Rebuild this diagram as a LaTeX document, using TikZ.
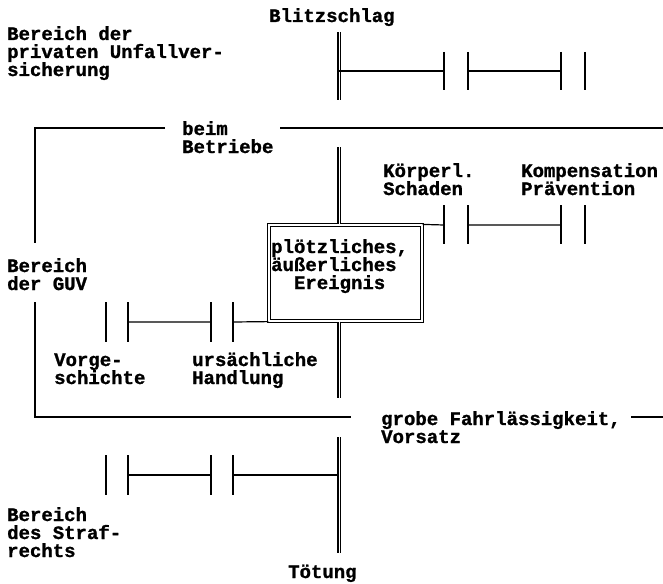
\documentclass[tikz,border=0pt]{standalone}
\usepackage{fontspec}
\setmonofont{Liberation Mono}[BoldFeatures={FakeBold=1.2}]

\tikzset{
	txt/.style={font=\ttfamily\bfseries\fontsize{19}{18}\selectfont, inner sep=0pt, align=left, anchor=base west},
	ln/.style={line width=1.2pt},
	bar/.style={line width=1.8pt},
	axe/.style={double, line width=1.3pt, double distance=1pt},
	evbox/.style={draw, double, line width=1.2pt, double distance=1.6pt, minimum width=153pt, minimum height=96pt, inner sep=0pt},
}

\begin{document}
\begin{tikzpicture}[x=1pt,y=-1pt]
		\useasboundingbox (0,0) rectangle (663,583);

		\node[evbox] (ev) at (345.5,273) {};
		\node[txt] (evtxt) at (271,289) {plötzliches,\\äußerliches\\~~Ereignis};

		\draw[ln] (165,128) -- (35,128) -- (35,243);
		\draw[ln] (35,302) -- (35,417) -- (351,417);
		\draw[ln] (280,128) -- (663,128);
		\draw[ln] (631,417) -- (663,417);

		\draw[axe] (339,32) -- (339,100);
		\draw[axe] (339,147) -- (339,147 |- ev.north);
		\draw[axe] (339,398 |- ev.south) -- (339,398);
		\draw[axe] (339,437) -- (339,553);

		\draw[ln] (339,71) -- (444,71) (468,71) -- (561,71);
		\draw[bar] (444,52) -- (444,90) (468,52) -- (468,90) (561,52) -- (561,90) (585,52) -- (585,90);

		\draw[ln] (ev.north east) -- (444,225) (468,225) -- (561,225);
		\draw[bar] (444,205) -- (444,244) (468,205) -- (468,244) (561,205) -- (561,244) (585,205) -- (585,244);

		\draw[ln] (128,322) -- (211,322) (233,322) -- (ev.south west);
		\draw[bar] (106,302) -- (106,342) (128,302) -- (128,342) (211,302) -- (211,342) (233,302) -- (233,342);

		\draw[ln] (128,475) -- (211,475) (233,475) -- (339,475);
		\draw[bar] (106,455) -- (106,495) (128,455) -- (128,495) (211,455) -- (211,495) (233,455) -- (233,495);

		\node[txt] (blitz) at (269,22) {Blitzschlag};
		\node[txt] (puv) at (7,76) {Bereich der\\privaten Unfallver-\\sicherung};
		\node[txt] (betrieb) at (182,153) {beim\\Betriebe};
		\node[txt] (schaden) at (383,195) {Körperl.\\Schaden};
		\node[txt] (komp) at (521,195) {Kompensation\\Prävention};
		\node[txt] (guv) at (7,290) {Bereich\\der GUV};
		\node[txt] (vorg) at (54,384) {Vorge-\\schichte};
		\node[txt] (handl) at (192,384) {ursächliche\\Handlung};
		\node[txt] (grob) at (381,443) {grobe Fahrlässigkeit,\\Vorsatz};
		\node[txt] (straf) at (7,557) {Bereich\\des Straf-\\rechts};
		\node[txt] (toet) at (288,578) {Tötung};
	\end{tikzpicture}
\end{document}
